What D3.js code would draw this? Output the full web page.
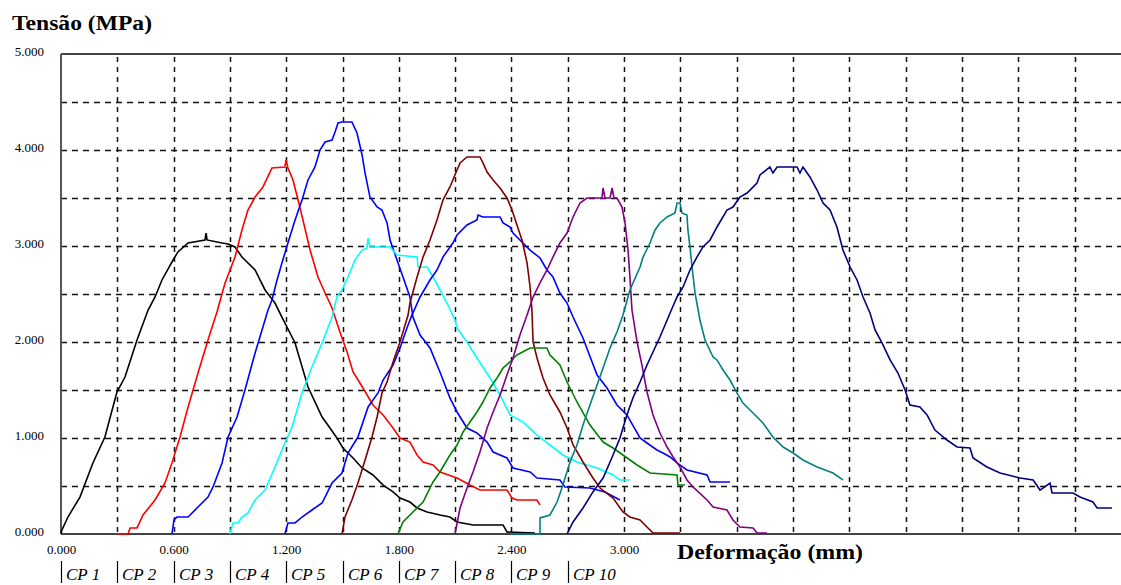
<!DOCTYPE html>
<html>
<head>
<meta charset="utf-8">
<script src="https://cdn.jsdelivr.net/npm/d3@7"></script>
<style>
  html, body { margin: 0; padding: 0; background: #fff; }
  svg { display: block; }
</style>
</head>
<body>
<svg id="chart" width="1121" height="585"></svg>
<script>
// Curves: [deformação (mm), tensão (MPa)]
const cp1 = [[0,0],[0.005,0.042],[0.037,0.177],[0.101,0.385],[0.170,0.740],[0.234,1.010],[0.298,1.479],[0.341,1.635],[0.405,2.021],[0.464,2.333],[0.501,2.469],[0.538,2.646],[0.597,2.854],[0.623,2.938],[0.677,3.031],[0.767,3.063],[0.773,3.135],[0.778,3.063],[0.858,3.031],[0.890,3.021],[0.927,2.990],[0.964,2.885],[1.034,2.750],[1.087,2.542],[1.140,2.406],[1.177,2.260],[1.247,1.990],[1.316,1.531],[1.391,1.219],[1.433,1.104],[1.470,1.000],[1.502,0.896],[1.556,0.792],[1.604,0.688],[1.662,0.615],[1.716,0.510],[1.769,0.438],[1.806,0.375],[1.859,0.333],[1.897,0.271],[1.950,0.229],[2.019,0.198],[2.072,0.177],[2.110,0.125],[2.195,0.094],[2.355,0.094],[2.376,0.021],[2.525,0.010]];
const cp2 = [[0.298,0],[0.357,0],[0.368,0.063],[0.405,0.063],[0.437,0.198],[0.501,0.354],[0.554,0.531],[0.591,0.740],[0.634,1.010],[0.677,1.323],[0.730,1.677],[0.783,2.021],[0.831,2.313],[0.874,2.615],[0.927,2.885],[0.964,3.167],[0.996,3.375],[1.034,3.510],[1.076,3.615],[1.124,3.813],[1.193,3.823],[1.199,3.896],[1.209,3.813],[1.236,3.688],[1.263,3.479],[1.289,3.271],[1.327,2.958],[1.369,2.677],[1.407,2.510],[1.444,2.354],[1.486,2.104],[1.524,1.896],[1.556,1.688],[1.609,1.521],[1.662,1.344],[1.716,1.240],[1.769,1.104],[1.806,1.000],[1.859,0.958],[1.897,0.823],[1.929,0.750],[1.982,0.719],[2.019,0.646],[2.110,0.583],[2.179,0.510],[2.232,0.458],[2.376,0.458],[2.403,0.375],[2.429,0.354],[2.536,0.354],[2.552,0.302]];
const cp3 = [[0.591,0],[0.602,0.146],[0.618,0.177],[0.677,0.177],[0.730,0.281],[0.783,0.385],[0.810,0.490],[0.858,0.740],[0.890,1.010],[0.938,1.219],[0.980,1.500],[1.034,1.885],[1.071,2.125],[1.103,2.333],[1.124,2.438],[1.151,2.646],[1.177,2.823],[1.209,3.031],[1.247,3.271],[1.284,3.479],[1.316,3.688],[1.353,3.823],[1.380,4.000],[1.407,4.083],[1.444,4.104],[1.460,4.188],[1.476,4.281],[1.497,4.292],[1.550,4.292],[1.577,4.177],[1.604,3.948],[1.620,3.760],[1.646,3.510],[1.684,3.406],[1.710,3.375],[1.737,3.240],[1.753,3.063],[1.790,2.854],[1.822,2.677],[1.859,2.469],[1.875,2.260],[1.913,2.073],[1.966,1.938],[2.019,1.688],[2.072,1.417],[2.110,1.271],[2.163,1.104],[2.216,1.052],[2.270,0.958],[2.302,0.854],[2.376,0.792],[2.408,0.688],[2.499,0.646],[2.536,0.583],[2.658,0.563],[2.685,0.490],[2.818,0.479],[2.898,0.438],[2.978,0.354]];
const cp4 = [[0.900,0],[0.916,0.115],[0.943,0.115],[0.964,0.177],[0.996,0.219],[1.034,0.354],[1.087,0.458],[1.140,0.698],[1.193,0.948],[1.231,1.115],[1.284,1.469],[1.337,1.740],[1.391,1.990],[1.444,2.260],[1.470,2.469],[1.497,2.542],[1.529,2.677],[1.566,2.854],[1.604,2.958],[1.630,2.979],[1.636,3.083],[1.646,2.990],[1.753,2.990],[1.790,2.906],[1.897,2.885],[1.902,2.781],[1.950,2.781],[1.982,2.677],[2.019,2.542],[2.056,2.406],[2.099,2.229],[2.110,2.146],[2.163,2.000],[2.216,1.833],[2.286,1.625],[2.339,1.448],[2.392,1.240],[2.461,1.167],[2.536,1.031],[2.605,0.927],[2.674,0.823],[2.749,0.750],[2.856,0.688],[2.941,0.615],[2.978,0.563],[3.031,0.563]];
const cp5 = [[1.193,0],[1.209,0.115],[1.247,0.115],[1.284,0.177],[1.337,0.250],[1.391,0.323],[1.444,0.531],[1.497,0.635],[1.529,0.844],[1.582,1.010],[1.636,1.323],[1.689,1.469],[1.716,1.604],[1.769,1.760],[1.806,1.938],[1.849,2.177],[1.870,2.281],[1.913,2.469],[1.966,2.646],[2.003,2.750],[2.035,2.885],[2.088,3.031],[2.110,3.115],[2.163,3.219],[2.216,3.271],[2.222,3.323],[2.248,3.302],[2.339,3.302],[2.355,3.240],[2.392,3.198],[2.408,3.135],[2.461,3.031],[2.499,2.958],[2.552,2.875],[2.589,2.750],[2.621,2.677],[2.658,2.510],[2.696,2.406],[2.728,2.260],[2.781,2.042],[2.856,1.656],[2.909,1.521],[2.962,1.344],[3.015,1.240],[3.085,1.000],[3.122,0.948],[3.175,0.875],[3.207,0.844],[3.245,0.802],[3.282,0.740],[3.335,0.667],[3.442,0.615],[3.458,0.542],[3.564,0.542]];
const cp6 = [[1.497,0],[1.513,0.177],[1.550,0.354],[1.582,0.531],[1.620,0.771],[1.657,1.010],[1.684,1.219],[1.710,1.469],[1.737,1.583],[1.769,1.792],[1.806,2.000],[1.849,2.281],[1.859,2.406],[1.897,2.677],[1.929,2.885],[1.966,3.063],[2.003,3.271],[2.035,3.479],[2.072,3.615],[2.110,3.792],[2.126,3.865],[2.163,3.927],[2.232,3.927],[2.248,3.865],[2.270,3.771],[2.302,3.688],[2.339,3.604],[2.376,3.500],[2.403,3.375],[2.429,3.219],[2.456,3.063],[2.483,2.823],[2.499,2.573],[2.509,2.333],[2.515,2.000],[2.536,1.833],[2.568,1.625],[2.605,1.448],[2.658,1.271],[2.696,1.104],[2.728,0.927],[2.781,0.750],[2.834,0.583],[2.872,0.479],[2.941,0.375],[2.994,0.229],[3.031,0.177],[3.085,0.146],[3.122,0.073],[3.154,0.010],[3.298,0.010]];
const cp7 = [[1.795,0],[1.822,0.125],[1.875,0.229],[1.929,0.333],[1.982,0.542],[2.019,0.646],[2.072,0.823],[2.110,0.927],[2.142,1.063],[2.179,1.167],[2.216,1.271],[2.248,1.375],[2.286,1.521],[2.323,1.625],[2.355,1.729],[2.392,1.792],[2.429,1.865],[2.499,1.938],[2.589,1.938],[2.605,1.865],[2.658,1.760],[2.696,1.583],[2.749,1.375],[2.818,1.135],[2.888,0.958],[2.941,0.896],[2.994,0.823],[3.069,0.719],[3.138,0.635],[3.282,0.615],[3.287,0.510],[3.324,0.510]];
const cp8 = [[2.099,0],[2.126,0.271],[2.163,0.479],[2.195,0.646],[2.232,0.854],[2.270,1.104],[2.302,1.271],[2.339,1.448],[2.376,1.656],[2.408,1.833],[2.445,2.073],[2.483,2.281],[2.515,2.469],[2.552,2.615],[2.589,2.750],[2.621,2.885],[2.658,3.031],[2.696,3.135],[2.728,3.302],[2.765,3.448],[2.802,3.500],[2.882,3.500],[2.888,3.604],[2.898,3.500],[2.925,3.500],[2.936,3.604],[2.946,3.500],[2.962,3.500],[2.989,3.406],[3.005,3.240],[3.021,2.958],[3.031,2.677],[3.042,2.333],[3.069,2.000],[3.095,1.760],[3.122,1.479],[3.154,1.240],[3.191,1.052],[3.229,0.906],[3.261,0.802],[3.298,0.698],[3.335,0.563],[3.367,0.490],[3.442,0.354],[3.474,0.281],[3.548,0.250],[3.580,0.146],[3.617,0.073],[3.687,0.063],[3.708,0.010],[3.761,0.010]];
const cp9 = [[2.392,0],[2.552,0],[2.552,0.167],[2.605,0.198],[2.643,0.333],[2.674,0.510],[2.712,0.750],[2.749,0.927],[2.781,1.135],[2.818,1.344],[2.856,1.552],[2.888,1.729],[2.925,1.938],[2.962,2.104],[2.994,2.281],[3.031,2.542],[3.085,2.781],[3.101,2.885],[3.138,3.031],[3.165,3.167],[3.191,3.240],[3.229,3.302],[3.271,3.344],[3.282,3.448],[3.298,3.448],[3.308,3.344],[3.335,3.323],[3.340,3.167],[3.351,2.990],[3.362,2.781],[3.378,2.510],[3.404,2.229],[3.431,2.021],[3.474,1.844],[3.495,1.813],[3.527,1.708],[3.564,1.604],[3.601,1.469],[3.633,1.365],[3.687,1.260],[3.740,1.156],[3.793,1.010],[3.847,0.906],[3.900,0.844],[3.953,0.771],[4.028,0.698],[4.113,0.635],[4.166,0.563]];
const cp10 = [[2.696,0],[2.728,0.125],[2.781,0.271],[2.834,0.438],[2.888,0.583],[2.941,0.823],[2.978,1.000],[3.015,1.240],[3.047,1.417],[3.085,1.583],[3.122,1.760],[3.154,1.896],[3.191,2.052],[3.245,2.302],[3.282,2.469],[3.314,2.573],[3.351,2.750],[3.388,2.885],[3.420,2.990],[3.458,3.063],[3.495,3.198],[3.548,3.375],[3.580,3.406],[3.617,3.510],[3.655,3.552],[3.708,3.656],[3.724,3.740],[3.777,3.823],[3.793,3.760],[3.815,3.823],[3.921,3.823],[3.937,3.760],[3.953,3.823],[3.990,3.719],[4.028,3.583],[4.060,3.448],[4.097,3.375],[4.134,3.198],[4.166,2.958],[4.204,2.781],[4.241,2.646],[4.273,2.469],[4.310,2.302],[4.337,2.125],[4.374,1.990],[4.417,1.813],[4.459,1.677],[4.497,1.500],[4.523,1.344],[4.576,1.323],[4.614,1.240],[4.656,1.083],[4.720,0.979],[4.774,0.906],[4.843,0.896],[4.859,0.792],[4.933,0.698],[5.003,0.635],[5.109,0.583],[5.179,0.563],[5.216,0.458],[5.269,0.531],[5.280,0.427],[5.392,0.427],[5.429,0.385],[5.498,0.333],[5.520,0.271],[5.599,0.271]];

const seriesNames = ['CP 1', 'CP 2', 'CP 3', 'CP 4', 'CP 5', 'CP 6', 'CP 7', 'CP 8', 'CP 9', 'CP 10'];
const seriesData = [cp1, cp2, cp3, cp4, cp5, cp6, cp7, cp8, cp9, cp10];
const seriesColors = ['#000000', '#ff0000', '#0000ff', '#00ffff', '#0000ff', '#800000', '#008000', '#800080', '#008080', '#000080'];

// Axis ticks and grid
const xTickValues = [0, 0.6, 1.2, 1.8, 2.4, 3.0];
const yTickValues = [0, 1, 2, 3, 4, 5];
const xGridValues = [0.3, 0.6, 0.9, 1.2, 1.5, 1.8, 2.1, 2.4, 2.7, 3.0, 3.3, 3.6, 3.9, 4.2, 4.5, 4.8, 5.1, 5.4];
const yGridValues = [0.5, 1, 1.5, 2, 2.5, 3, 3.5, 4, 4.5];
const legendSteps = [0, 0.3, 0.6, 0.9, 1.2, 1.5, 1.8, 2.1, 2.4, 2.7];

const serif = "'Liberation Serif', 'Times New Roman', Tinos, 'DejaVu Serif', serif";

const svg = d3.select('#chart');

// plot box
const box = {left: 61, right: 1121, top: 54, bottom: 534};

const x = d3.scaleLinear().domain([0, (box.right - box.left) / 187.7]).range([box.left, box.right]);
const y = d3.scaleLinear().domain([0, 5]).range([box.bottom, box.top]);

// Dashed grid
svg.append('g')
  .selectAll('line')
  .data(xGridValues)
  .enter().append('line')
  .attr('x1', d => Math.round(x(d)) + 0.5)
  .attr('x2', d => Math.round(x(d)) + 0.5)
  .attr('y1', box.top + 3)
  .attr('y2', box.bottom)
  .attr('stroke', '#111')
  .attr('stroke-width', 1.5)
  .attr('stroke-dasharray', '5,5');

svg.append('g')
  .selectAll('line')
  .data(yGridValues)
  .enter().append('line')
  .attr('x1', box.left)
  .attr('x2', box.right)
  .attr('y1', d => Math.round(y(d)) + 0.5)
  .attr('y2', d => Math.round(y(d)) + 0.5)
  .attr('stroke', '#111')
  .attr('stroke-width', 1.5)
  .attr('stroke-dasharray', '6,5');

// Frame: top, left, bottom
svg.append('line').attr('x1', box.left).attr('x2', box.right).attr('y1', box.top).attr('y2', box.top)
  .attr('stroke', '#444').attr('stroke-width', 2);
svg.append('line').attr('x1', box.left).attr('x2', box.left).attr('y1', box.top).attr('y2', box.bottom)
  .attr('stroke', '#555').attr('stroke-width', 2);
svg.append('line').attr('x1', box.left).attr('x2', box.right).attr('y1', box.bottom).attr('y2', box.bottom)
  .attr('stroke', '#444').attr('stroke-width', 2);

// Curves
const line = d3.line()
  .x(d => x(d[0]))
  .y(d => y(d[1]));

svg.append('g')
  .selectAll('path')
  .data(seriesData)
  .enter().append('path')
  .attr('d', line)
  .attr('fill', 'none')
  .attr('stroke', (d, i) => seriesColors[i])
  .attr('stroke-width', 1.6)
  .attr('stroke-linejoin', 'miter');

// X axis labels
const xAxis = svg.append('g')
  .attr('transform', `translate(0,${box.bottom})`)
  .call(d3.axisBottom(x).tickValues(xTickValues).tickSize(0).tickPadding(11).tickFormat(d3.format('.3f')));
xAxis.select('.domain').remove();
xAxis.attr('font-family', serif).attr('font-size', 13);
xAxis.selectAll('text').attr('fill', '#000');

// Y axis labels
const yAxis = svg.append('g')
  .attr('transform', `translate(${box.left},0)`)
  .call(d3.axisLeft(y).tickValues(yTickValues).tickSize(0).tickPadding(17).tickFormat(d3.format('.3f')));
yAxis.select('.domain').remove();
yAxis.attr('font-family', serif).attr('font-size', 13);
yAxis.selectAll('text').attr('dy', '0.15em').attr('fill', '#000');

// Titles
svg.append('text')
  .attr('x', 12)
  .attr('y', 30)
  .attr('font-family', serif)
  .attr('font-size', 20)
  .attr('font-weight', 'bold')
  .attr('textLength', 140)
  .attr('lengthAdjust', 'spacingAndGlyphs')
  .text('Tensão (MPa)');

svg.append('text')
  .attr('x', 677)
  .attr('y', 559)
  .attr('font-family', serif)
  .attr('font-size', 20)
  .attr('font-weight', 'bold')
  .attr('textLength', 186)
  .attr('lengthAdjust', 'spacingAndGlyphs')
  .text('Deformação (mm)');

// Legend: bar + italic label under each grid column
const legend = svg.append('g')
  .selectAll('g')
  .data(seriesNames)
  .enter().append('g')
  .attr('transform', (d, i) => `translate(${Math.round(x(legendSteps[i]))},0)`);

legend.append('line')
  .attr('x1', 0.5).attr('x2', 0.5)
  .attr('y1', 561).attr('y2', 583)
  .attr('stroke', '#000')
  .attr('stroke-width', 1.2);

legend.append('text')
  .attr('x', 5)
  .attr('y', 580)
  .attr('font-family', serif)
  .attr('font-size', 17)
  .attr('font-style', 'italic')
  .text(d => d);
</script>
</body>
</html>
